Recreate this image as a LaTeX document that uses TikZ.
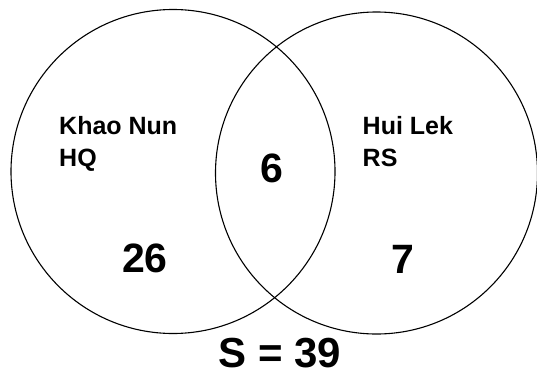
\documentclass[tikz,border=0pt]{standalone}
\usepackage{fontspec}
\setmainfont{Liberation Sans}
\begin{document}
\begin{tikzpicture}[x=1pt,y=-1pt,
  venn/.style={circle,draw,line width=1.1pt,inner sep=0pt},
  lab/.style={font=\bfseries\fontsize{25}{29}\selectfont,anchor=base west,inner sep=0pt},
  num/.style={font=\bfseries\fontsize{41}{48}\selectfont,anchor=base,inner sep=0pt}]
\useasboundingbox[fill=white] (0,0) rectangle (537,372);
\node[venn,minimum size=324pt] (A) at (173,171.5) {};
\node[venn,minimum size=322pt] (B) at (376.5,173) {};
\node[lab] (kn1) at (59,134.3) {Khao Nun};
\node[lab] (kn2) at (59,166) {HQ};
\node[lab] (hl1) at (362.5,134.3) {Hui Lek};
\node[lab] (hl2) at (362.5,166) {RS};
\node[num] (n6) at (271.7,182.7) {6};
\node[num] (n26) at (145,272.7) {26};
\node[num] (n7) at (402.5,273) {7};
\node[num,font=\bfseries\fontsize{42}{48}\selectfont] (s) at (280,367.5) {S = 39};
\end{tikzpicture}
\end{document}
